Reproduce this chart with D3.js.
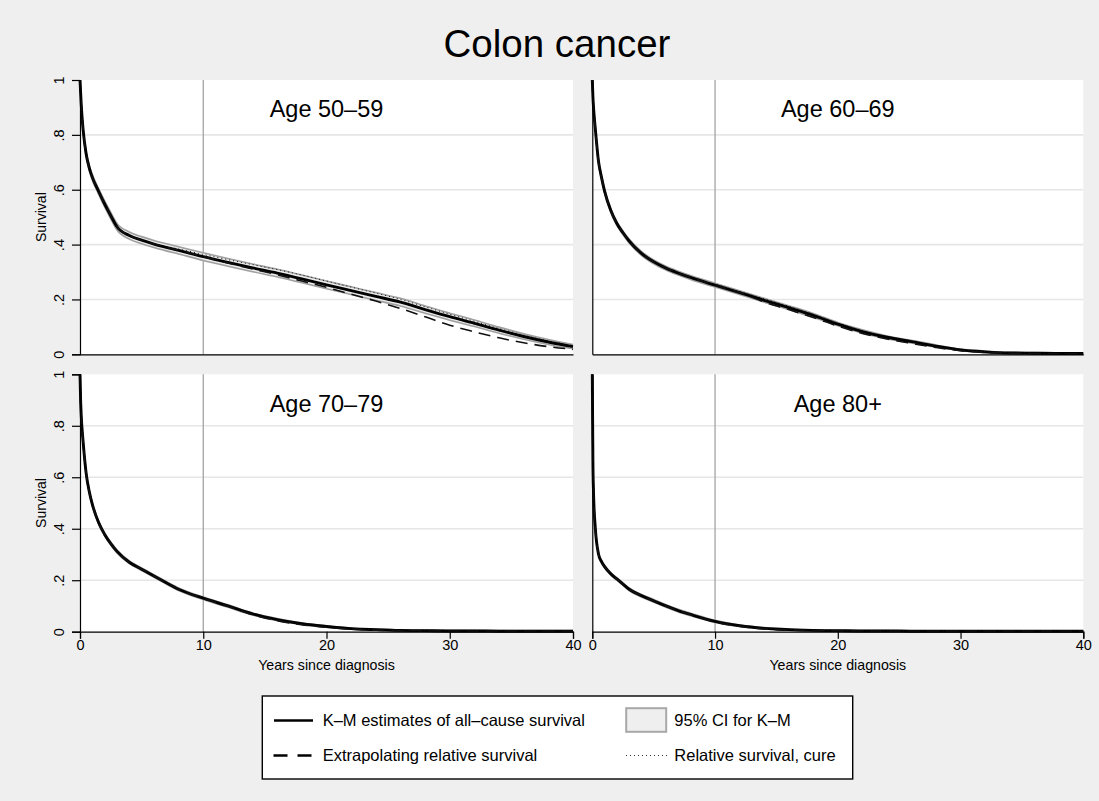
<!DOCTYPE html>
<html>
<head>
<meta charset="utf-8">
<script src="https://cdn.jsdelivr.net/npm/d3@7"></script>
<style>
  html, body { margin: 0; padding: 0; background: #efefef; }
  svg { display: block; font-family: "Liberation Sans", Arial, Helvetica, sans-serif; }
</style>
</head>
<body>
<svg id="chart" width="1099" height="801"></svg>
<script>
// Years since diagnosis at which the curves are tabulated
const times = [0, 0.05, 0.1, 0.25, 0.5, 0.75, 1, 1.5, 2, 2.5, 3, 4, 5, 6, 7, 8, 10, 12, 14, 16, 18, 20, 22, 24, 26, 28, 30, 32, 34, 36, 38, 40];

// Age 50-59
const km5059   = [1, 0.955, 0.91, 0.82, 0.73, 0.68, 0.645, 0.595, 0.548, 0.505, 0.465, 0.433, 0.416, 0.402, 0.39, 0.379, 0.356, 0.335, 0.315, 0.296, 0.275, 0.253, 0.232, 0.211, 0.19, 0.163, 0.137, 0.113, 0.088, 0.065, 0.045, 0.028];
const lo5059   = [1, 0.95, 0.904, 0.813, 0.722, 0.671, 0.635, 0.585, 0.537, 0.493, 0.453, 0.42, 0.403, 0.389, 0.377, 0.366, 0.342, 0.321, 0.301, 0.282, 0.261, 0.239, 0.218, 0.197, 0.176, 0.15, 0.124, 0.101, 0.077, 0.055, 0.036, 0.02];
const hi5059   = [1, 0.96, 0.916, 0.827, 0.738, 0.689, 0.655, 0.605, 0.559, 0.517, 0.477, 0.446, 0.429, 0.415, 0.403, 0.392, 0.37, 0.349, 0.329, 0.31, 0.289, 0.267, 0.246, 0.225, 0.204, 0.176, 0.15, 0.125, 0.099, 0.075, 0.054, 0.036];
const rel5059  = [1, 0.955, 0.91, 0.82, 0.73, 0.68, 0.645, 0.595, 0.548, 0.505, 0.465, 0.433, 0.416, 0.402, 0.39, 0.379, 0.356, 0.333, 0.311, 0.29, 0.267, 0.244, 0.219, 0.194, 0.167, 0.137, 0.106, 0.082, 0.06, 0.042, 0.028, 0.018];
const cure5059 = [1, 0.955, 0.91, 0.82, 0.73, 0.68, 0.645, 0.595, 0.548, 0.505, 0.465, 0.433, 0.417, 0.404, 0.393, 0.384, 0.364, 0.345, 0.327, 0.309, 0.289, 0.267, 0.245, 0.223, 0.2, 0.173, 0.146, 0.12, 0.094, 0.07, 0.049, 0.032];

// Age 60-69
const km6069   = [1, 0.94, 0.9, 0.82, 0.705, 0.645, 0.595, 0.525, 0.477, 0.443, 0.413, 0.368, 0.337, 0.314, 0.296, 0.28, 0.252, 0.225, 0.197, 0.17, 0.142, 0.11, 0.083, 0.062, 0.046, 0.03, 0.016, 0.009, 0.005, 0.004, 0.003, 0.003];
const lo6069   = [1, 0.936, 0.895, 0.814, 0.698, 0.638, 0.588, 0.518, 0.47, 0.436, 0.406, 0.361, 0.33, 0.307, 0.289, 0.273, 0.245, 0.218, 0.19, 0.163, 0.135, 0.104, 0.077, 0.057, 0.041, 0.026, 0.013, 0.006, 0.003, 0.002, 0.001, 0.001];
const hi6069   = [1, 0.944, 0.905, 0.826, 0.712, 0.652, 0.602, 0.532, 0.484, 0.45, 0.42, 0.375, 0.344, 0.321, 0.303, 0.287, 0.259, 0.232, 0.204, 0.177, 0.149, 0.116, 0.089, 0.067, 0.051, 0.034, 0.019, 0.012, 0.007, 0.006, 0.005, 0.005];
const rel6069  = [1, 0.94, 0.9, 0.82, 0.705, 0.645, 0.595, 0.525, 0.477, 0.443, 0.413, 0.368, 0.337, 0.314, 0.296, 0.28, 0.252, 0.225, 0.191, 0.163, 0.134, 0.103, 0.076, 0.056, 0.04, 0.025, 0.013, 0.007, 0.004, 0.003, 0.002, 0.002];
const cure6069 = [1, 0.94, 0.9, 0.82, 0.705, 0.645, 0.595, 0.525, 0.477, 0.443, 0.413, 0.368, 0.337, 0.315, 0.298, 0.283, 0.256, 0.229, 0.202, 0.175, 0.146, 0.114, 0.087, 0.065, 0.048, 0.031, 0.017, 0.01, 0.006, 0.004, 0.003, 0.003];

// Age 70-79
const km7079   = [1, 0.9, 0.84, 0.74, 0.615, 0.545, 0.495, 0.425, 0.378, 0.342, 0.312, 0.27, 0.243, 0.216, 0.19, 0.165, 0.13, 0.1, 0.069, 0.047, 0.031, 0.02, 0.012, 0.008, 0.005, 0.004, 0.003, 0.003, 0.002, 0.002, 0.002, 0.002];
const lo7079   = [1, 0.896, 0.835, 0.735, 0.609, 0.539, 0.489, 0.419, 0.372, 0.336, 0.306, 0.265, 0.238, 0.211, 0.185, 0.16, 0.125, 0.095, 0.065, 0.043, 0.028, 0.017, 0.01, 0.006, 0.003, 0.002, 0.001, 0.001, 0.001, 0.001, 0.001, 0.001];
const hi7079   = [1, 0.904, 0.845, 0.745, 0.621, 0.551, 0.501, 0.431, 0.384, 0.348, 0.318, 0.275, 0.248, 0.221, 0.195, 0.17, 0.135, 0.105, 0.073, 0.051, 0.034, 0.023, 0.014, 0.01, 0.007, 0.006, 0.005, 0.005, 0.004, 0.004, 0.004, 0.004];
const rel7079  = [1, 0.9, 0.84, 0.74, 0.615, 0.545, 0.495, 0.425, 0.378, 0.342, 0.312, 0.27, 0.243, 0.216, 0.19, 0.165, 0.13, 0.099, 0.066, 0.043, 0.027, 0.017, 0.01, 0.006, 0.004, 0.003, 0.002, 0.002, 0.002, 0.002, 0.002, 0.002];
const cure7079 = [1, 0.9, 0.84, 0.74, 0.615, 0.545, 0.495, 0.425, 0.378, 0.342, 0.312, 0.27, 0.243, 0.217, 0.191, 0.167, 0.132, 0.102, 0.071, 0.049, 0.033, 0.021, 0.013, 0.009, 0.006, 0.004, 0.003, 0.003, 0.002, 0.002, 0.002, 0.002];

// Age 80+
const km80     = [1, 0.66, 0.54, 0.4, 0.303, 0.272, 0.253, 0.225, 0.205, 0.185, 0.165, 0.14, 0.12, 0.1, 0.082, 0.067, 0.04, 0.023, 0.013, 0.008, 0.005, 0.004, 0.003, 0.003, 0.002, 0.002, 0.002, 0.002, 0.002, 0.002, 0.002, 0.002];
const lo80     = [1, 0.655, 0.535, 0.395, 0.298, 0.267, 0.248, 0.22, 0.2, 0.18, 0.16, 0.135, 0.115, 0.095, 0.077, 0.062, 0.036, 0.02, 0.011, 0.006, 0.004, 0.003, 0.002, 0.002, 0.001, 0.001, 0.001, 0.001, 0.001, 0.001, 0.001, 0.001];
const hi80     = [1, 0.665, 0.545, 0.405, 0.308, 0.277, 0.258, 0.23, 0.21, 0.19, 0.17, 0.145, 0.125, 0.105, 0.087, 0.072, 0.044, 0.026, 0.016, 0.01, 0.007, 0.005, 0.004, 0.004, 0.003, 0.003, 0.003, 0.003, 0.003, 0.003, 0.003, 0.003];
const rel80    = [1, 0.66, 0.54, 0.4, 0.303, 0.272, 0.253, 0.225, 0.205, 0.185, 0.165, 0.14, 0.12, 0.1, 0.082, 0.067, 0.038, 0.021, 0.011, 0.006, 0.004, 0.003, 0.002, 0.002, 0.002, 0.002, 0.002, 0.002, 0.002, 0.002, 0.002, 0.002];
const cure80   = [1, 0.66, 0.54, 0.4, 0.303, 0.272, 0.253, 0.225, 0.205, 0.185, 0.165, 0.14, 0.12, 0.1, 0.083, 0.069, 0.042, 0.025, 0.015, 0.009, 0.006, 0.004, 0.003, 0.003, 0.002, 0.002, 0.002, 0.002, 0.002, 0.002, 0.002, 0.002];

const panelTitles = ["Age 50–59", "Age 60–69", "Age 70–79", "Age 80+"];
const xTicks = [0, 10, 20, 30, 40];
const yTicks = [0, 0.2, 0.4, 0.6, 0.8, 1];
const yTickLabels = ["0", ".2", ".4", ".6", ".8", "1"];
const cutoffYear = 10;

const chartTitle = "Colon cancer";
const yTitle = "Survival";
const xTitle = "Years since diagnosis";
const legendLabels = ["K–M estimates of all–cause survival", "95% CI for K–M", "Extrapolating relative survival", "Relative survival, cure"];

// ---- layout ----
const svg = d3.select("#chart");
const colX = [[80, 573], [592.3, 1083.3]];
const rowY = [[80, 354.3], [374.3, 631.7]];

const panels = [
  { title: panelTitles[0], km: km5059, lo: lo5059, hi: hi5059, rel: rel5059, cure: cure5059, col: 0, row: 0 },
  { title: panelTitles[1], km: km6069, lo: lo6069, hi: hi6069, rel: rel6069, cure: cure6069, col: 1, row: 0 },
  { title: panelTitles[2], km: km7079, lo: lo7079, hi: hi7079, rel: rel7079, cure: cure7079, col: 0, row: 1 },
  { title: panelTitles[3], km: km80,   lo: lo80,   hi: hi80,   rel: rel80,   cure: cure80,   col: 1, row: 1 }
];

svg.append("rect").attr("width", 1099).attr("height", 801).attr("fill", "#efefef");

svg.append("text")
  .attr("x", 557).attr("y", 56.5)
  .attr("text-anchor", "middle")
  .attr("font-size", 38.5)
  .attr("fill", "#000")
  .text(chartTitle);

panels.forEach(p => {
  const [x0, x1] = colX[p.col];
  const [y0, y1] = rowY[p.row];
  const x = d3.scaleLinear().domain([0, 40]).range([x0, x1]);
  const y = d3.scaleLinear().domain([0, 1]).range([y1, y0]);
  const g = svg.append("g");

  // plot region
  g.append("rect").attr("x", x0).attr("y", y0).attr("width", x1 - x0).attr("height", y1 - y0).attr("fill", "#fff");

  // horizontal grid
  g.selectAll(".grid").data(yTicks.filter(v => v > 0 && v < 1)).join("line")
    .attr("x1", x0).attr("x2", x1)
    .attr("y1", d => y(d)).attr("y2", d => y(d))
    .attr("stroke", "#e6e6e6").attr("stroke-width", 1.6);

  // reference line at 10 years
  g.append("line")
    .attr("x1", x(cutoffYear)).attr("x2", x(cutoffYear))
    .attr("y1", y0).attr("y2", y1)
    .attr("stroke", "#a3a3a3").attr("stroke-width", 1.3);

  const pts = arr => times.map((t, k) => [t, arr[k]]);
  const curve = d3.curveMonotoneX;
  const line = d3.line().x(d => x(d[0])).y(d => y(d[1])).curve(curve);

  // confidence band
  const band = times.map((t, k) => ({ t, lo: p.lo[k], hi: p.hi[k] }));
  g.append("path").datum(band)
    .attr("d", d3.area().x(d => x(d.t)).y0(d => y(d.lo)).y1(d => y(d.hi)).curve(curve))
    .attr("fill", "#ececec");
  [p.lo, p.hi].forEach(arr => {
    g.append("path").datum(pts(arr)).attr("d", line)
      .attr("fill", "none").attr("stroke", "#a0a0a0").attr("stroke-width", 1.6);
  });

  // K-M estimate
  g.append("path").datum(pts(p.km)).attr("d", line)
    .attr("fill", "none").attr("stroke", "#000").attr("stroke-width", 2.9);

  // extrapolated relative survival
  g.append("path").datum(pts(p.rel)).attr("d", line)
    .attr("fill", "none").attr("stroke", "#111").attr("stroke-width", 1.6)
    .attr("stroke-dasharray", "12,7");

  // relative survival with cure
  g.append("path").datum(pts(p.cure)).attr("d", line)
    .attr("fill", "none").attr("stroke", "#111").attr("stroke-width", 1)
    .attr("stroke-dasharray", "1,3");

  // panel title
  g.append("text")
    .attr("x", (x0 + x1) / 2).attr("y", y0 + 37.4)
    .attr("text-anchor", "middle").attr("font-size", 23.5)
    .text(p.title);

  // y axis
  const yAxis = g.append("g").attr("transform", `translate(${x0},0)`);
  if (p.col === 0) {
    yAxis.call(d3.axisLeft(y).tickValues(yTicks).tickSize(8).tickFormat((d, k) => yTickLabels[k]));
    yAxis.selectAll(".tick text")
      .style("font-size", "14.5px").attr("fill", "#000")
      .attr("transform", "translate(-16,0) rotate(-90)")
      .attr("x", 0).attr("dy", 0).attr("text-anchor", "middle");
    g.append("text")
      .attr("transform", `translate(${x0 - 34},${(y0 + y1) / 2}) rotate(-90)`)
      .attr("text-anchor", "middle").attr("font-size", 14)
      .text(yTitle);
  } else {
    yAxis.call(d3.axisLeft(y).tickValues([]).tickSize(0));
  }
  yAxis.select(".domain").attr("stroke", "#000").attr("stroke-width", 1.2);
  yAxis.selectAll(".tick line").attr("stroke", "#000").attr("stroke-width", 1.2);

  // x axis
  const xAxis = g.append("g").attr("transform", `translate(0,${y1})`);
  if (p.row === 1) {
    xAxis.call(d3.axisBottom(x).tickValues(xTicks).tickSize(7).tickFormat(d3.format("d")));
    xAxis.selectAll(".tick text").style("font-size", "14.5px").attr("fill", "#000").attr("dy", "0.55em").attr("y", 10);
    g.append("text")
      .attr("x", (x0 + x1) / 2).attr("y", y1 + 38)
      .attr("text-anchor", "middle").attr("font-size", 14.2)
      .text(xTitle);
  } else {
    xAxis.call(d3.axisBottom(x).tickValues([]).tickSize(0));
  }
  xAxis.select(".domain").attr("stroke", "#000").attr("stroke-width", 1.2);
  xAxis.selectAll(".tick line").attr("stroke", "#000").attr("stroke-width", 1.2);
});

// ---- legend ----
const lg = svg.append("g");
lg.append("rect").attr("x", 262.3).attr("y", 696).attr("width", 590.4).attr("height", 83)
  .attr("fill", "#fff").attr("stroke", "#000").attr("stroke-width", 1.4);

const lgRows = [720.5, 755.5];
// solid K-M key
lg.append("line").attr("x1", 274).attr("x2", 313).attr("y1", lgRows[0]).attr("y2", lgRows[0])
  .attr("stroke", "#000").attr("stroke-width", 2.6);
// dashed key
lg.append("line").attr("x1", 273.5).attr("x2", 313).attr("y1", lgRows[1]).attr("y2", lgRows[1])
  .attr("stroke", "#000").attr("stroke-width", 2.6).attr("stroke-dasharray", "14,10");
// CI key
lg.append("rect").attr("x", 626.2).attr("y", 708.2).attr("width", 40).attr("height", 23.6)
  .attr("fill", "#efefef").attr("stroke", "#a8a8a8").attr("stroke-width", 2);
// dotted key
lg.append("line").attr("x1", 626).attr("x2", 667).attr("y1", lgRows[1]).attr("y2", lgRows[1])
  .attr("stroke", "#333").attr("stroke-width", 1).attr("stroke-dasharray", "1,3");

const lgText = [
  { x: 322.7, y: lgRows[0], t: legendLabels[0] },
  { x: 674.3, y: lgRows[0], t: legendLabels[1] },
  { x: 322.7, y: lgRows[1], t: legendLabels[2] },
  { x: 674.3, y: lgRows[1], t: legendLabels[3] }
];
lg.selectAll(".lgt").data(lgText).join("text")
  .attr("x", d => d.x).attr("y", d => d.y).attr("dy", "0.36em")
  .attr("font-size", 16.5).text(d => d.t);
</script>
</body>
</html>
